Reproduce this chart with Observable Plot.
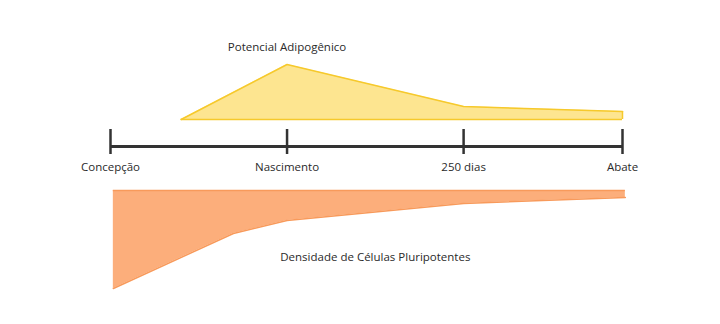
<!DOCTYPE html>
<html>
<head>
<meta charset="utf-8">
<script src="https://cdn.jsdelivr.net/npm/d3@7"></script>
<script src="https://cdn.jsdelivr.net/npm/@observablehq/plot@0.6"></script>
<style>
  html, body { margin: 0; padding: 0; background: #fff; }
  #chart svg { display: block; }
</style>
</head>
<body>
<div id="chart"></div>
<script>
// Timeline (days since conception)
const stageLabels = ["Concepção", "Nascimento", "250 dias", "Abate"];
const stageDays = [0, 250, 500, 725];

// Potencial Adipogênico (relative height)
const potDays = [100, 250, 500, 725];
const potValues = [0, 55, 13, 8];

// Densidade de Células Pluripotentes (relative depth)
const denDays = [4, 174, 250, 500, 729];
const denValues = [98, 43, 30, 13, 7];

const titleTop = "Potencial Adipogênico";
const titleBottom = "Densidade de Células Pluripotentes";

// layout constants
const potBase = 27;     // gap above the timeline
const denBase = -44;    // gap below the timeline

const pot = potDays.map((d, i) => ({day: d, v: potValues[i]}));
const den = denDays.map((d, i) => ({day: d, v: denValues[i]}));
const stages = stageDays.map((d, i) => ({day: d, label: stageLabels[i]}));

const font = "'Open Sans', 'Noto Sans', sans-serif";

const chart = Plot.plot({
  width: 720,
  height: 324,
  marginTop: 0, marginBottom: 0, marginLeft: 0, marginRight: 0,
  style: {fontFamily: font, fontSize: "11.5px", color: "#2a2a2a", background: "#fff"},
  x: {domain: [0, 725], range: [110, 622], axis: null},
  y: {domain: [-178, 146], range: [324, 0], axis: null},
  marks: [
    Plot.areaY(pot, {x: "day", y1: potBase, y2: d => potBase + d.v, fill: "#fde590", curve: "linear"}),
    Plot.line(pot, {x: "day", y: d => potBase + d.v, stroke: "#f6c92c", strokeWidth: 1.5}),
    Plot.ruleY([potBase], {x1: potDays[0], x2: potDays[potDays.length - 1], stroke: "#f6c92c", strokeWidth: 1.5}),
    Plot.ruleX([potDays[potDays.length - 1]], {y1: potBase, y2: potBase + potValues[potValues.length - 1], stroke: "#f6c92c", strokeWidth: 1.5}),

    Plot.areaY(den, {x: "day", y1: denBase, y2: d => denBase - d.v, fill: "#fcae7b"}),
    Plot.line(den, {x: "day", y: d => denBase - d.v, stroke: "#f89a5b", strokeWidth: 1.5}),
    Plot.ruleY([denBase], {x1: denDays[0], x2: denDays[denDays.length - 1], stroke: "#f89a5b", strokeWidth: 1.5}),

    Plot.ruleY([0], {x1: stageDays[0], x2: stageDays[stageDays.length - 1], stroke: "#333", strokeWidth: 3}),
    Plot.ruleX(stages, {x: "day", y1: -8, y2: 17, stroke: "#333", strokeWidth: 2.5}),
    Plot.text(stages, {x: "day", y: -21, text: "label", fill: "#2a2a2a", fontSize: 11.5}),

    Plot.text([titleTop], {x: 250, y: 99, text: d => d, fill: "#2a2a2a", fontSize: 11.5}),
    Plot.text([titleBottom], {x: 375, y: -111, text: d => d, fill: "#2a2a2a", fontSize: 11.5})
  ]
});
document.getElementById("chart").appendChild(chart);
</script>
</body>
</html>
